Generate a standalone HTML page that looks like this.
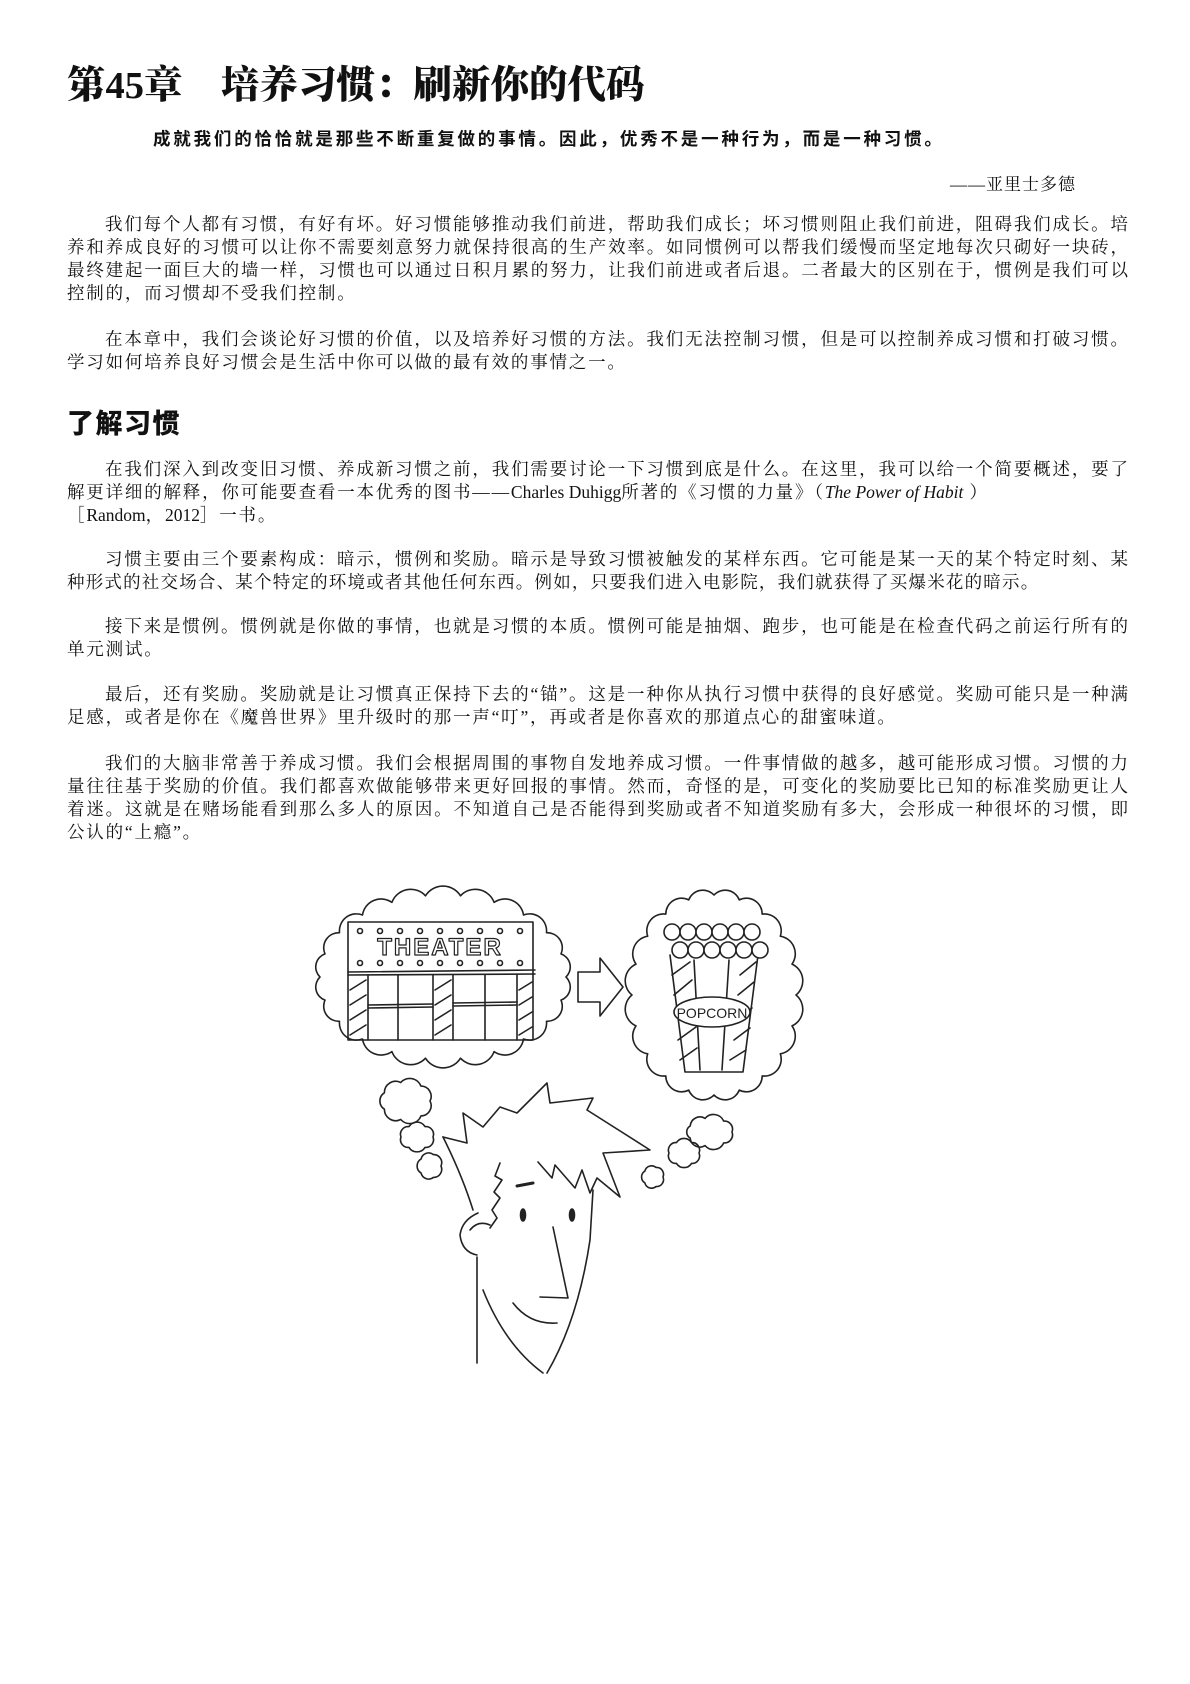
<!DOCTYPE html>
<html><head><meta charset="utf-8">
<style>
html,body{margin:0;padding:0;background:#fff;}
body{width:1190px;height:1684px;position:relative;overflow:hidden;color:#111;
 font-family:"Liberation Serif","Noto Serif CJK SC",serif;}
.t{position:absolute;left:67px;width:1061px;height:23px;line-height:23px;font-size:17.5px;white-space:nowrap;
 text-align:justify;text-align-last:justify;}
.t.in{padding-left:38px;width:1023px;}
.t.last{text-align-last:left;letter-spacing:1.8px;}
.lat{letter-spacing:0;}
h1{position:absolute;left:67px;top:55px;margin:0;font-size:38.5px;font-weight:900;letter-spacing:0;
 font-family:"Liberation Serif","Noto Serif CJK SC",serif;white-space:nowrap;}
h2{position:absolute;left:67px;top:402px;margin:0;font-size:27px;font-weight:900;
 font-family:"Liberation Sans","Noto Sans CJK SC",sans-serif;letter-spacing:1.5px;}
.quote{position:absolute;left:153px;top:126px;font-size:17.5px;font-weight:bold;letter-spacing:2.8px;
 font-family:"Liberation Sans","Noto Sans CJK SC",sans-serif;white-space:nowrap;}
.attr{position:absolute;left:950px;top:170px;font-size:17px;white-space:nowrap;letter-spacing:1px;}
svg{position:absolute;left:0;top:0;}
</style></head>
<body>
<h1>第45章&nbsp;&nbsp;&nbsp;&nbsp;培养习惯：刷新你的代码</h1>
<div class="quote">成就我们的恰恰就是那些不断重复做的事情。因此，优秀不是一种行为，而是一种习惯。</div>
<div class="attr">——亚里士多德</div>

<div>
<div class="t in" style="top:213px">我们每个人都有习惯，有好有坏。好习惯能够推动我们前进，帮助我们成长；坏习惯则阻止我们前进，阻碍我们成长。培</div>
<div class="t" style="top:236px">养和养成良好的习惯可以让你不需要刻意努力就保持很高的生产效率。如同惯例可以帮我们缓慢而坚定地每次只砌好一块砖，</div>
<div class="t" style="top:259px">最终建起一面巨大的墙一样，习惯也可以通过日积月累的努力，让我们前进或者后退。二者最大的区别在于，惯例是我们可以</div>
<div class="t last" style="top:282px">控制的，而习惯却不受我们控制。</div>
</div>
<div>
<div class="t in" style="top:328px">在本章中，我们会谈论好习惯的价值，以及培养好习惯的方法。我们无法控制习惯，但是可以控制养成习惯和打破习惯。</div>
<div class="t last" style="top:351px">学习如何培养良好习惯会是生活中你可以做的最有效的事情之一。</div>
</div>

<h2>了解习惯</h2>

<div>
<div class="t in" style="top:458px">在我们深入到改变旧习惯、养成新习惯之前，我们需要讨论一下习惯到底是什么。在这里，我可以给一个简要概述，要了</div>
<div class="t last" style="top:481px">解更详细的解释，你可能要查看一本优秀的图书——<span class="lat">Charles Duhigg</span>所著的《习惯的力量》（<i class="lat">The Power of Habit</i> ）</div>
<div class="t last" style="top:504px">［<span class="lat">Random</span>，<span class="lat">2012</span>］一书。</div>
</div>
<div>
<div class="t in" style="top:548px">习惯主要由三个要素构成：暗示，惯例和奖励。暗示是导致习惯被触发的某样东西。它可能是某一天的某个特定时刻、某</div>
<div class="t last" style="top:571px;letter-spacing:1.2px">种形式的社交场合、某个特定的环境或者其他任何东西。例如，只要我们进入电影院，我们就获得了买爆米花的暗示。</div>
</div>
<div>
<div class="t in" style="top:615px">接下来是惯例。惯例就是你做的事情，也就是习惯的本质。惯例可能是抽烟、跑步，也可能是在检查代码之前运行所有的</div>
<div class="t last" style="top:638px">单元测试。</div>
</div>
<div>
<div class="t in" style="top:683px">最后，还有奖励。奖励就是让习惯真正保持下去的“锚”。这是一种你从执行习惯中获得的良好感觉。奖励可能只是一种满</div>
<div class="t last" style="top:706px">足感，或者是你在《魔兽世界》里升级时的那一声“叮”，再或者是你喜欢的那道点心的甜蜜味道。</div>
</div>
<div>
<div class="t in" style="top:752px">我们的大脑非常善于养成习惯。我们会根据周围的事物自发地养成习惯。一件事情做的越多，越可能形成习惯。习惯的力</div>
<div class="t" style="top:775px">量往往基于奖励的价值。我们都喜欢做能够带来更好回报的事情。然而，奇怪的是，可变化的奖励要比已知的标准奖励更让人</div>
<div class="t" style="top:798px">着迷。这就是在赌场能看到那么多人的原因。不知道自己是否能得到奖励或者不知道奖励有多大，会形成一种很坏的习惯，即</div>
<div class="t last" style="top:821px">公认的“上瘾”。</div>
</div>

<svg id="ill" width="1190" height="1684" fill="none" stroke="#222" stroke-width="1.6" stroke-linecap="round" stroke-linejoin="round">
 <g id="clouds"></g>
 <g>
  <rect x="348" y="922" width="185" height="118"/>
  <line x1="348" y1="972" x2="535" y2="970"/>
  <line x1="348" y1="975" x2="535" y2="974"/>
  <line x1="368" y1="975" x2="368" y2="1040"/><line x1="398" y1="975" x2="398" y2="1040"/>
  <line x1="433" y1="975" x2="433" y2="1040"/><line x1="453" y1="975" x2="453" y2="1040"/>
  <line x1="485" y1="975" x2="485" y2="1040"/><line x1="517" y1="975" x2="517" y2="1040"/>
  <line x1="368" y1="1005" x2="433" y2="1004"/><line x1="368" y1="1008" x2="433" y2="1007"/>
  <line x1="453" y1="1003" x2="517" y2="1002"/><line x1="453" y1="1006" x2="517" y2="1005"/>
  <path d="M350 990 L366 980 M350 1005 L366 995 M350 1020 L366 1010 M350 1035 L366 1025 M435 990 L451 980 M435 1005 L451 995 M435 1020 L451 1010 M435 1035 L451 1025 M519 990 L532 982 M519 1005 L532 997 M519 1020 L532 1012 M519 1035 L532 1027"/>
  <text x="440" y="955" font-family="Liberation Sans, sans-serif" font-size="24" font-weight="bold" fill="none" stroke="#222" stroke-width="1.2" text-anchor="middle" letter-spacing="2">THEATER</text>
  <g id="dots" fill="none"></g>
 </g>
 <path d="M578 972 L600 972 L600 958 L623 987 L600 1016 L600 1002 L578 1002 Z"/>
 <g>
  <path d="M670 955 L685 1072 L743 1072 L758 955"/>
  <path d="M694 960 L700 1070 M729 960 L722 1070"/>
  <path d="M672 975 L690 962 M674 995 L692 980 M676 1015 L694 1002 M678 1040 L696 1027 M680 1060 L697 1048 M740 975 L756 962 M738 995 L754 982 M736 1020 L752 1008 M734 1040 L750 1028 M730 1060 L746 1050"/>
  <ellipse cx="712" cy="1012" rx="38" ry="15" fill="#fff"/>
  <text x="712" y="1018" font-family="Liberation Sans, sans-serif" font-size="14" fill="#222" stroke="none" text-anchor="middle">POPCORN</text>
  <g id="kernels"></g>
 </g>
 <g>
  <path d="M443 1137 L467 1143 L463 1113 L483 1127 L500 1107 L517 1113 L547 1083 L550 1103 L593 1098 L587 1110 L650 1150 L603 1153 L620 1197 L597 1178 L590 1193 L582 1170 L575 1188 L555 1165 L552 1178 L538 1162"/>
  <path d="M443 1137 Q462 1175 473 1210"/>
  <path d="M500 1163 L495 1176 L502 1180 L494 1192 L500 1198 L492 1210 L497 1218 L490 1228"/>
  <path d="M478 1213 Q462 1220 460 1235 Q462 1252 477 1255 M470 1230 Q478 1220 490 1225"/>
  <path d="M477 1257 L477 1363"/>
  <path d="M483 1290 Q505 1345 543 1373"/>
  <path d="M593 1190 L590 1240 Q578 1320 547 1373"/>
  <path d="M553 1227 L568 1298 L540 1297"/>
  <path d="M513 1303 Q530 1325 557 1323"/>
  <ellipse cx="523" cy="1215" rx="2.5" ry="6" fill="#222"/>
  <ellipse cx="572" cy="1215" rx="2.5" ry="6" fill="#222"/>
  <path d="M517 1186 L533 1183" stroke-width="3"/>
 </g>
</svg>
<script>
const NS='http://www.w3.org/2000/svg';
function scallop(cx,cy,rx,ry,n,name){
  const pts=[];
  for(let i=0;i<n;i++){const a=i/n*Math.PI*2;pts.push([cx+rx*Math.cos(a),cy+ry*Math.sin(a)]);}
  let d='M'+pts[0][0].toFixed(1)+' '+pts[0][1].toFixed(1);
  for(let i=1;i<=n;i++){const p=pts[i%n],q=pts[i-1];const r=Math.hypot(p[0]-q[0],p[1]-q[1])/1.7;
    d+=' A'+r.toFixed(1)+' '+r.toFixed(1)+' 0 0 1 '+p[0].toFixed(1)+' '+p[1].toFixed(1);}
  d+='Z';
  const el=document.createElementNS(NS,'path');el.setAttribute('d',d);
  
  
  document.getElementById('clouds').appendChild(el);
}
scallop(443,977,123,82,22,'thought-cloud-theater');
scallop(714,995,82,100,20,'thought-cloud-popcorn');
scallop(406,1101,24,19,7,'thought-puff');
scallop(417,1137,16,12,6,'thought-puff');
scallop(430,1166,11,12,5,'thought-puff');
scallop(710,1132,22,14,7,'thought-puff');
scallop(684,1153,15,12,6,'thought-puff');
scallop(653,1177,10,10,5,'thought-puff');
const dots=document.getElementById('dots');
for(let i=0;i<9;i++){for(const y of [931,963]){const c=document.createElementNS(NS,'circle');
 c.setAttribute('cx',360+i*20);c.setAttribute('cy',y);c.setAttribute('r',2.5);
 
 
 dots.appendChild(c);}}
const k=document.getElementById('kernels');
for(let i=0;i<12;i++){const c=document.createElementNS(NS,'circle');
 c.setAttribute('cx',672+(i%6)*16+(i>5?8:0));c.setAttribute('cy',i>5?950:932);c.setAttribute('r',8);c.setAttribute('fill','#fff');
 
 
 k.appendChild(c);}
</script>
</body></html>
